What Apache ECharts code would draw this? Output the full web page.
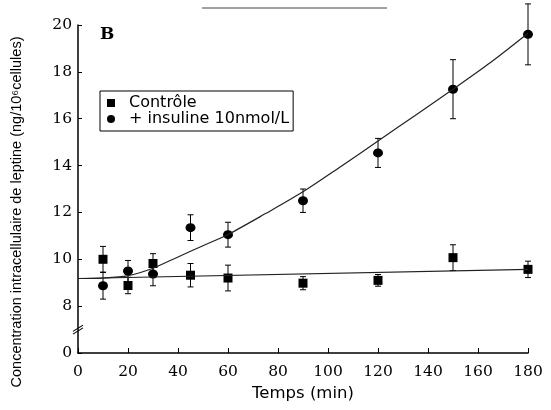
<!DOCTYPE html>
<html><head><meta charset="utf-8">
<script src="https://cdn.jsdelivr.net/npm/echarts@6/dist/echarts.min.js"></script>
<style>html,body{margin:0;padding:0;background:#fff}#c{width:551px;height:410px}</style>
</head><body><div id="c"></div>
<script>
// ---- data ----
const times = [10, 20, 30, 45, 60, 90, 120, 150, 180];
const controleMean = [10.0, 8.88, 9.82, 9.32, 9.2, 8.98, 9.1, 10.07, 9.57];
const controleErr  = [0.55, 0.35, 0.42, 0.5, 0.55, 0.28, 0.25, 0.55, 0.35];
const insulineMean = [8.87, 9.5, 9.37, 11.35, 11.05, 12.5, 14.54, 17.26, 19.6];
const insulineErr  = [0.57, 0.45, 0.5, 0.55, 0.53, 0.5, 0.62, 1.26, 1.3];
const controleFitT = [0, 180];
const controleFitV = [9.18, 9.57];
const insulineFitT = [0, 10, 20, 30, 40, 50, 60, 75, 90, 105, 120, 135, 150, 165, 180];
const insulineFitV = [9.18, 9.2, 9.3, 9.62, 10.1, 10.58, 11.06, 11.95, 12.88, 13.95, 15.05, 16.15, 17.26, 18.4, 19.65];
const seriesNames = ['Contrôle', '+ insuline 10nmol/L'];
const yBreakValue = 6;      // axis value shown as "0" (broken axis)
const yBreakMark = 7;       // where the "//" break symbol sits
const xTitle = 'Temps (min)';
const yTitle = 'Concentration intracellulaire de leptine (ng/10\u2076cellules)';
const panelLabel = 'B';

const pairs = (xs, ys) => xs.map((x, i) => [x, ys[i]]);
const errs = (xs, m, e) => xs.map((x, i) => [x, m[i] - e[i], m[i] + e[i]]);

function errRender(params, api) {
  const x = api.value(0), lo = api.value(1), hi = api.value(2);
  const p1 = api.coord([x, hi]), p2 = api.coord([x, lo]);
  const w = 3;
  const style = { stroke: '#000', lineWidth: 1 };
  return { type: 'group', children: [
    { type: 'line', shape: { x1: p1[0], y1: p1[1], x2: p2[0], y2: p2[1] }, style },
    { type: 'line', shape: { x1: p1[0] - w, y1: p1[1], x2: p1[0] + w, y2: p1[1] }, style },
    { type: 'line', shape: { x1: p2[0] - w, y1: p2[1], x2: p2[0] + w, y2: p2[1] }, style }
  ]};
}

const chart = echarts.init(document.getElementById('c'), null, { renderer: 'canvas' });
chart.setOption({
  animation: false,
  backgroundColor: '#fff',
  grid: { left: 78, right: 23, top: 25, bottom: 57 },
  xAxis: {
    type: 'value', min: 0, max: 180, interval: 20,
    name: xTitle, nameLocation: 'middle', nameGap: 32,
    nameTextStyle: { fontFamily: 'DejaVu Sans', fontSize: 16.5, color: '#000' },
    axisLine: { lineStyle: { color: '#000', width: 1.5 } },
    axisTick: { inside: true, length: 5, lineStyle: { color: '#000', width: 1 } },
    axisLabel: { fontFamily: 'DejaVu Serif', fontSize: 15.5, color: '#000', margin: 11 },
    splitLine: { show: false }
  },
  yAxis: {
    type: 'value', min: yBreakValue, max: 20, interval: 2,
    axisLine: { show: true, lineStyle: { color: '#000', width: 1.5 } },
    axisTick: { show: true, inside: true, length: 4, lineStyle: { color: '#000', width: 1 } },
    axisLabel: { fontFamily: 'DejaVu Serif', fontSize: 15.5, color: '#000', margin: 6,
      formatter: v => (v === yBreakValue ? '0' : String(v)) },
    splitLine: { show: false }
  },
  legend: {
    data: [{ name: seriesNames[0], icon: 'rect' }, { name: seriesNames[1], icon: 'circle' }],
    orient: 'vertical', left: 100, top: 91,
    padding: [4, 4, 4, 7], itemGap: 0, itemWidth: 8, itemHeight: 8,
    borderColor: '#000', borderWidth: 1, borderRadius: 0,
    textStyle: { fontFamily: 'DejaVu Sans', fontSize: 16, lineHeight: 16, color: '#000', padding: [0, 0, 0, 9] },
    selectedMode: false
  },
  graphic: [
    { type: 'text', left: 100, top: 26, style: { text: panelLabel, font: 'bold 17px "DejaVu Serif"', fill: '#000' } },
    { type: 'text', x: 17, y: 212, rotation: Math.PI / 2,
      style: { text: yTitle, font: '14.5px "Liberation Sans"', fill: '#000', align: 'center', verticalAlign: 'middle' } },
    { type: 'line', shape: { x1: 202, y1: 8, x2: 387, y2: 8 }, style: { stroke: '#444', lineWidth: 1 } }
  ],
  series: [
    { type: 'line', data: pairs(controleFitT, controleFitV), showSymbol: false, silent: true,
      lineStyle: { color: '#222', width: 1.2 },
      markPoint: { silent: true, label: { show: false },
        data: [{ coord: [0, yBreakMark], symbol: 'path://M0,7 L9,0 M0,10 L9,3', symbolSize: [10, 9],
          itemStyle: { color: 'rgba(0,0,0,0)', borderColor: '#000', borderWidth: 1 } }] } },
    { type: 'line', data: pairs(insulineFitT, insulineFitV), showSymbol: false, silent: true, smooth: 0.3,
      lineStyle: { color: '#222', width: 1.2 } },
    { type: 'custom', data: errs(times, controleMean, controleErr), renderItem: errRender, clip: false, silent: true },
    { type: 'custom', data: errs(times, insulineMean, insulineErr), renderItem: errRender, clip: false, silent: true },
    { name: seriesNames[0], type: 'scatter', data: pairs(times, controleMean), symbol: 'rect', symbolSize: 9,
      itemStyle: { color: '#000', opacity: 1 } },
    { name: seriesNames[1], type: 'scatter', data: pairs(times, insulineMean), symbol: 'circle', symbolSize: [10, 9],
      itemStyle: { color: '#000', opacity: 1 } }
  ]
});
</script></body></html>
